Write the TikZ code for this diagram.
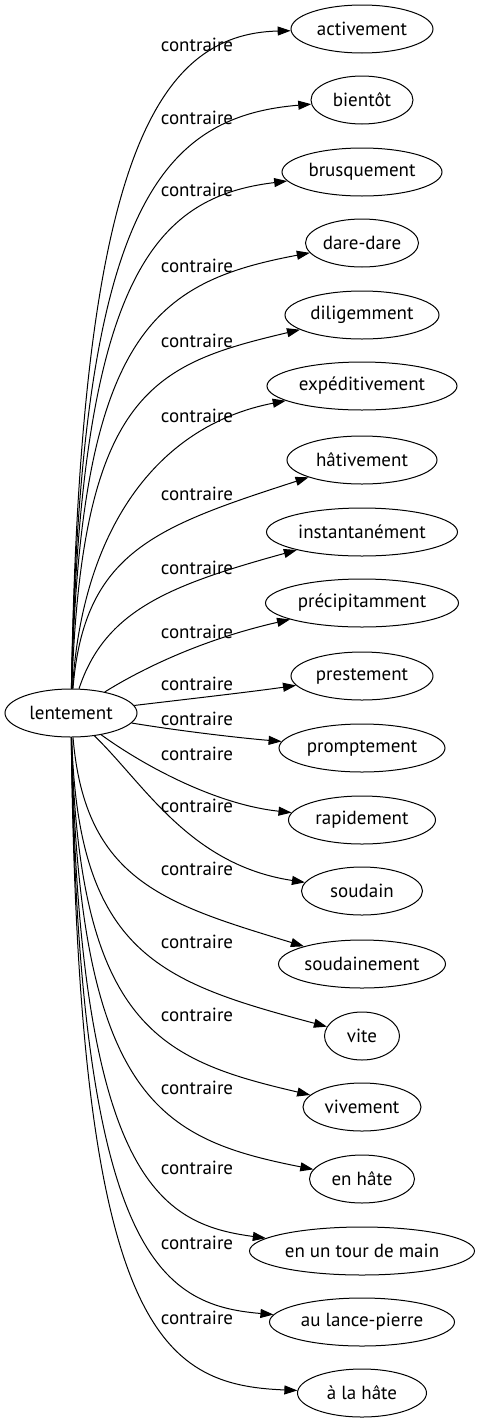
\documentclass[tikz,border=0pt]{standalone}
\usepackage{fontspec}
\setmainfont{PT Sans}
\usetikzlibrary{arrows.meta,shapes.geometric}

\begin{document}
\begin{tikzpicture}[x=1pt,y=-1pt,line width=1pt,
mot/.style={ellipse,draw,inner sep=0pt,minimum height=48pt,font=\fontsize{19}{22}\selectfont},
rel/.style={inner sep=0pt,font=\fontsize{19}{22}\selectfont},
fl/.style={-{Triangle[length=13pt,width=9pt]}}]
\useasboundingbox (0,0) rectangle (478,1427);
\node[mot,minimum width=132pt] (lentement) at (71,713) {lentement};
\foreach \n/\t/\w/\y/\l/\ax/\ay/\bx/\by in %
{1/activement/142/29/45/80/161/155/34,
 2/bientôt/102/100/118/80/218/155/117,
 3/brusquement/160/172/190/80/276/155/197,
 4/dare-dare/113/243/266/80/332/155/282,
 5/diligemment/154/315/341/82/390/155/364,
 6/expéditivement/190/386/416/82/532/155/426,
 7/hâtivement/150/460/494/84/552/155/527,
 8/instantanément/191/532/568/105/610/170/585,
 9/précipitamment/193/603/632/140/670/200/640,
 10/prestement/142/676/684/180/700/250/692,
 11/promptement/166/748/719/180/731/240/738,
 12/rapidement/147/820/754/150/770/220/805,
 13/soudain/121/891/806/145/785/190/865,
 14/soudainement/167/964/869/85/881/165/904,
 15/vite/75/1036/942/78/954/160/982,
 16/vivement/118/1107/1015/78/1027/160/1060,
 17/en hâte/105/1179/1088/78/1100/160/1139,
 18/en un tour de main/225/1251/1168/78/1180/160/1224,
 19/au lance-pierre/185/1322/1243/78/1255/160/1305,
 20/à la hâte/129/1393/1318/78/1330/160/1385} {
   \node[mot,minimum width=\w pt] (m\n) at (362,\y) {\t};
   \node[rel] (r\n) at (197,\l) {contraire};
   \draw[fl] (lentement) .. controls (\ax,\ay) and (\bx,\by) .. (m\n);
}
\end{tikzpicture}
\end{document}
